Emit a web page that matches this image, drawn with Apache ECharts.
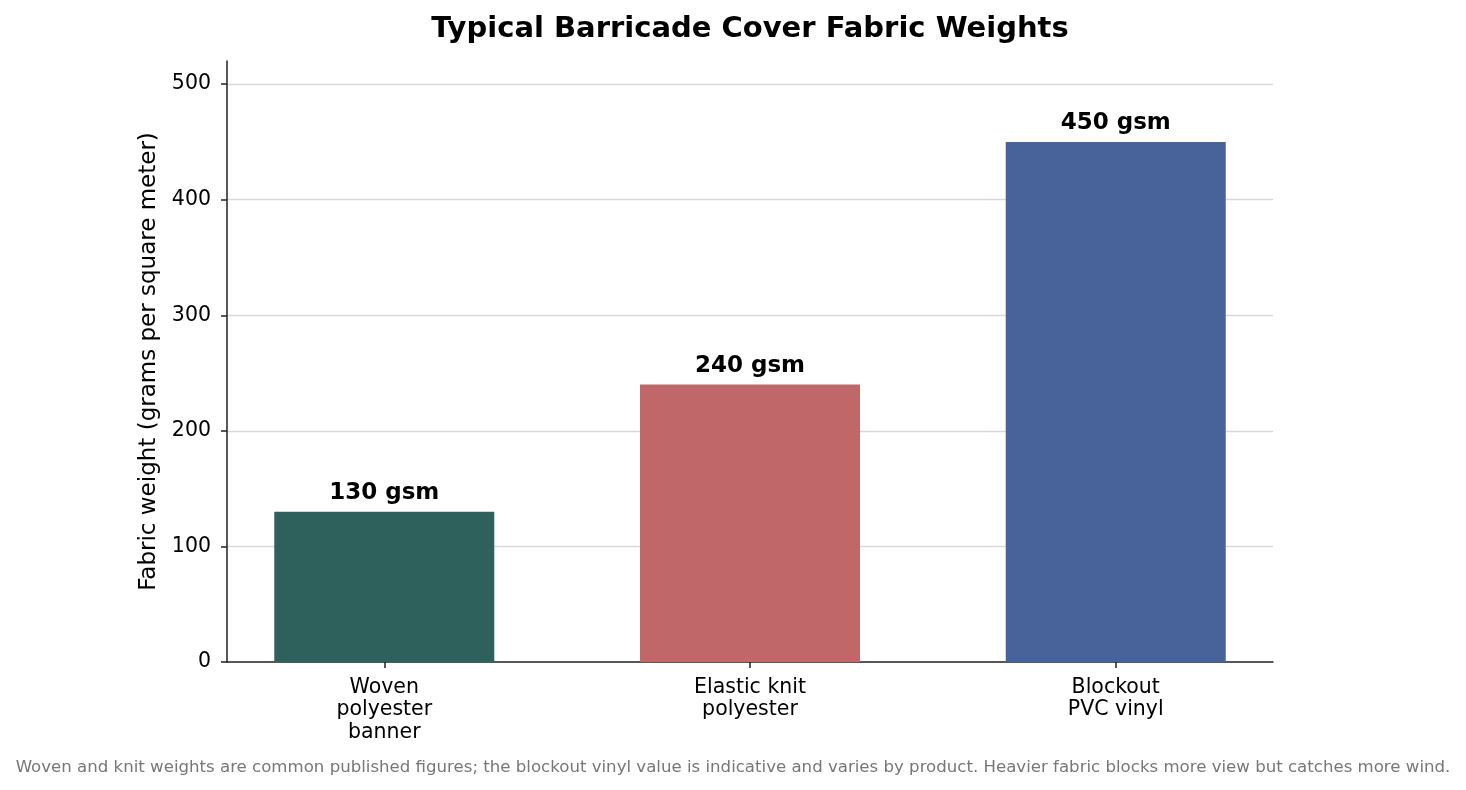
<!DOCTYPE html>
<html>
<head>
<meta charset="utf-8">
<script src="https://cdn.jsdelivr.net/npm/echarts@6/dist/echarts.min.js"></script>
<style>
  html, body { margin: 0; padding: 0; background: #fff; }
  #chart { width: 1466px; height: 790px; }
</style>
</head>
<body>
<div id="chart"></div>
<script>
// data
var categories = ['Woven\npolyester\nbanner', 'Elastic knit\npolyester', 'Blockout\nPVC vinyl'];
var weights = [130, 240, 450];
var barColors = ['#2e605c', '#c0676a', '#48629a'];
var yTicks = [0, 100, 200, 300, 400, 500];

var FONT = 'DejaVu Sans';
var myChart = echarts.init(document.getElementById('chart'));

var barData = weights.map(function (v, i) {
    return { value: [i, v], itemStyle: { color: barColors[i] } };
});

myChart.setOption({
    backgroundColor: '#ffffff',
    animation: false,
    title: [{
        text: 'Typical Barricade Cover Fabric Weights',
        left: 750,
        top: 15,
        padding: 0,
        textAlign: 'center',
        textStyle: { fontFamily: FONT, fontSize: 29, fontWeight: 'bold', color: '#000' }
    }, {
        text: 'Woven and knit weights are common published figures; the blockout vinyl value is indicative and varies by product. Heavier fabric blocks more view but catches more wind.',
        left: 'center',
        top: 759,
        padding: 0,
        textStyle: { fontFamily: FONT, fontSize: 16.6, fontWeight: 'normal', color: '#777' }
    }],
    grid: { left: 227, right: 193, top: 61, bottom: 128 },
    xAxis: {
        type: 'value',
        min: -0.43,
        max: 2.43,
        splitLine: { show: false },
        axisLine: { onZero: false, lineStyle: { color: '#222', width: 1.5 } },
        axisTick: { show: true, customValues: [0, 1, 2], length: 6, lineStyle: { color: '#222', width: 1.5 } },
        axisLabel: {
            customValues: [0, 1, 2],
            formatter: function (v) { return categories[Math.round(v)]; },
            fontFamily: FONT, fontSize: 20.5, color: '#000', lineHeight: 22.5, margin: 14
        }
    },
    yAxis: {
        type: 'value',
        min: 0,
        max: 520,
        interval: 100,
        name: 'Fabric weight (grams per square meter)',
        nameLocation: 'middle',
        nameGap: 63,
        nameTextStyle: { fontFamily: FONT, fontSize: 23, color: '#000' },
        axisLine: { show: true, onZero: false, lineStyle: { color: '#222', width: 1.5 } },
        axisTick: { show: true, customValues: yTicks, length: 6, lineStyle: { color: '#222', width: 1.5 } },
        axisLabel: { customValues: yTicks, fontFamily: FONT, fontSize: 20.5, color: '#000', margin: 16 },
        splitLine: { show: true, showMinLine: false, showMaxLine: true, lineStyle: { color: '#d9d9d9', width: 1.3 } }
    },
    series: [{
        type: 'bar',
        barWidth: 220,
        data: barData,
        label: {
            show: true,
            position: 'top',
            distance: 7,
            formatter: function (p) { return p.value[1] + ' gsm'; },
            fontFamily: FONT, fontSize: 23, fontWeight: 'bold', color: '#000'
        }
    }]
});
</script>
</body>
</html>
